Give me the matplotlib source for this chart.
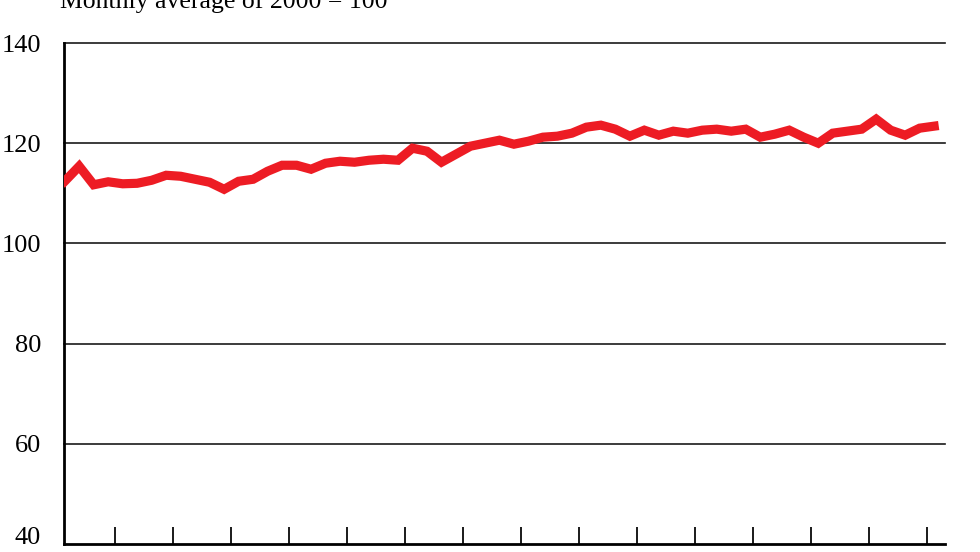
import numpy as np
import matplotlib.pyplot as plt
from matplotlib.transforms import ScaledTranslation

"""Data read from the chart (monthly index, 2000 = 100)"""
values = [112.4, 115.4, 111.7, 112.3, 111.9, 112.0, 112.6, 113.6, 113.4, 112.8,
          112.2, 110.8, 112.4, 112.8, 114.4, 115.6, 115.6, 114.8, 116.0, 116.4,
          116.2, 116.6, 116.8, 116.6, 119.0, 118.4, 116.2, 117.8, 119.4, 120.0,
          120.6, 119.8, 120.4, 121.2, 121.4, 122.0, 123.2, 123.6, 122.8, 121.4,
          122.6, 121.6, 122.4, 122.0, 122.6, 122.8, 122.4, 122.8, 121.2, 121.8,
          122.6, 121.2, 120.0, 122.0, 122.4, 122.8, 124.8, 122.6, 121.6, 123.0,
          123.4]
yticks = [40, 60, 80, 100, 120, 140]
title = "Monthly average of 2000 = 100"

x = np.arange(len(values))
xticks = np.arange(3.5, len(values), 4)

plt.rcParams['font.family'] = ['Liberation Serif', 'DejaVu Serif']

fig = plt.figure(figsize=(9.8, 5.52), dpi=100)
ax = fig.add_axes([64/980, 8/552, (945-64)/980, (544-43)/552])

# horizontal grid lines
for v in yticks[1:]:
    ax.axhline(v, color='#1a1a1a', lw=1.2, zorder=1, clip_on=False)

ax.plot(x, values, color='#ED1C24', lw=6.6, solid_joinstyle='miter', zorder=3)

ax.set_xlim(-0.05, 60.75)
ax.set_ylim(40, 140)
ax.set_yticks(yticks)
ax.set_yticklabels([str(v) for v in yticks], fontsize=19)
ax.tick_params(axis='y', length=0, pad=16.5)
ax.set_xticks(xticks)
ax.set_xticklabels([])
ax.tick_params(axis='x', direction='in', length=12.5, width=1.4, color='#1a1a1a')

# lowest label sits a little above the axis line
lab = ax.get_yticklabels()[0]
lab.set_transform(lab.get_transform() + ScaledTranslation(0, 6/72, fig.dpi_scale_trans))

for s in ['top', 'right']:
    ax.spines[s].set_visible(False)
ax.spines['left'].set_linewidth(2)
ax.spines['bottom'].set_linewidth(2)

fig.text(60/980, (552-8)/552, title, fontsize=18.5, va='baseline', ha='left')

fig.savefig('out.png', dpi=100)
